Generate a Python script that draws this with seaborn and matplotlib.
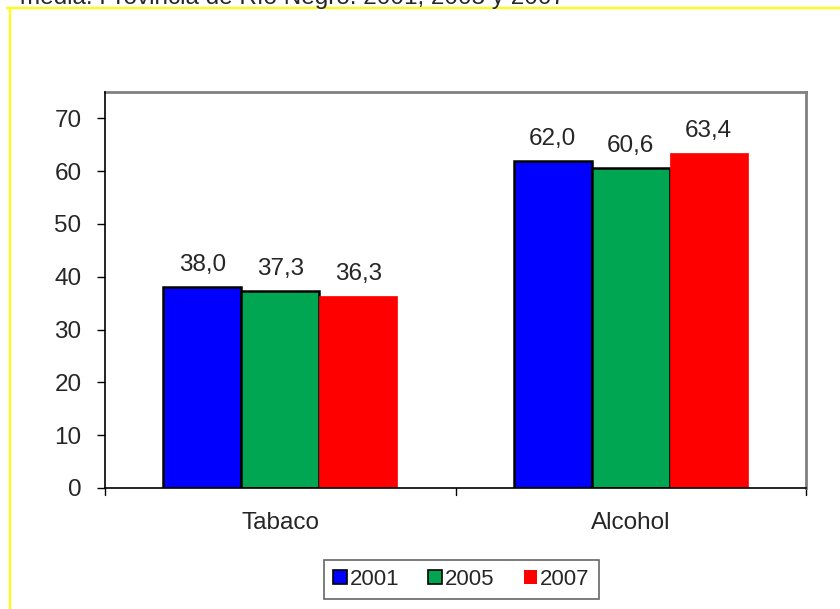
import pandas as pd
import matplotlib
matplotlib.use("Agg")
import matplotlib.pyplot as plt
import seaborn as sns
from matplotlib.patches import Patch
from matplotlib.lines import Line2D

# datos del grafico
categorias = ["Tabaco", "Alcohol"]
anios = ["2001", "2005", "2007"]
valores_2001 = [38.0, 62.0]
valores_2005 = [37.3, 60.6]
valores_2007 = [36.3, 63.4]
colores = ["#0000FF", "#00A651", "#FF0000"]

filas = []
for anio, vals in zip(anios, [valores_2001, valores_2005, valores_2007]):
    for cat, v in zip(categorias, vals):
        filas.append({"categoria": cat, "anio": anio, "valor": v})
df = pd.DataFrame(filas)

sns.set_style("white")
plt.rcParams["font.family"] = ["Liberation Sans", "DejaVu Sans"]

fig = plt.figure(figsize=(8.4, 6.09), dpi=100)
ax = fig.add_axes([105 / 840, 1 - 488 / 609, (806 - 105) / 840, (488 - 92) / 609])

sns.barplot(data=df, x="categoria", y="valor", hue="anio", palette=colores,
            saturation=1, width=0.668, edgecolor="black", linewidth=1.8,
            legend=False, ax=ax)

# la serie roja va sin borde negro
for b in ax.containers[2]:
    b.set_edgecolor(colores[2])
    b.set_linewidth(0.5)

# etiquetas de valor con coma decimal
for cont in ax.containers:
    labels = [f"{b.get_height():.1f}".replace(".", ",") for b in cont]
    ax.bar_label(cont, labels=labels, padding=8, fontsize=17.5)

ax.set_ylim(0, 75)
ax.set_yticks(range(0, 71, 10))
ax.set_xlim(-0.5, 1.5)
ax.set_xlabel("")
ax.set_ylabel("")
ax.tick_params(axis="y", labelsize=17.5, length=6, width=1, color="black", direction="out", left=True, pad=11)
ax.tick_params(axis="x", labelsize=17.5, length=0, pad=17)

# marcas del eje x entre categorias
for xv in [-0.5, 0.5, 1.5]:
    ax.plot([xv, xv], [0, -0.018], transform=ax.get_xaxis_transform(),
            color="black", lw=1, clip_on=False)

for s in ["left", "bottom"]:
    ax.spines[s].set_color("black")
    ax.spines[s].set_linewidth(1.2)
for s in ["top", "right"]:
    ax.spines[s].set_color("#808080")
    ax.spines[s].set_linewidth(2)
ax.spines["left"].set_zorder(5)

handles = [Patch(facecolor=colores[0], edgecolor="black", linewidth=1.2),
           Patch(facecolor=colores[1], edgecolor="black", linewidth=1.2),
           Patch(facecolor=colores[2], edgecolor="none")]
leg = fig.legend(handles, anios, loc="center", bbox_to_anchor=(461.5 / 840, 1 - 579.5 / 609),
                 ncol=3, fontsize=16, frameon=True, fancybox=False,
                 handlelength=0.6, handleheight=0.6, handletextpad=0.15,
                 columnspacing=1.3, borderpad=0.4, borderaxespad=0)
leg.get_frame().set_edgecolor("#404040")
leg.get_frame().set_linewidth(1.2)

# borde amarillo y titulo cortado como en el original
fig.add_artist(Line2D([7 / 840, 1], [1 - 8 / 609, 1 - 8 / 609], color="#FFFF00", lw=1.5))
fig.add_artist(Line2D([10 / 840, 10 / 840], [0, 1 - 8 / 609], color="#FFFF00", lw=1.5))
fig.text(20 / 840, 1 - 4 / 609, "media. Provincia de Río Negro. 2001, 2005 y 2007",
         fontsize=17.5, va="baseline", ha="left")

fig.savefig("out.png", dpi=100)
